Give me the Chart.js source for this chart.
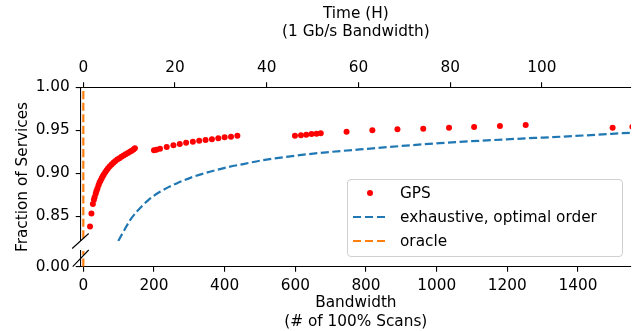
<!DOCTYPE html>
<html>
<head>
<meta charset="utf-8">
<script src="https://cdn.jsdelivr.net/npm/chart.js@4.4.1/dist/chart.umd.min.js"></script>
<style>
  html, body { margin: 0; padding: 0; background: #fff; }
  #wrap { position: relative; width: 638px; height: 331px; }
  #legend {
    position: absolute; left: 347px; top: 179px; width: 276px; height: 78px;
    box-sizing: border-box; border: 1px solid #d0d0d0; border-radius: 4px;
    background: rgba(255, 255, 255, 0.8);
    font: 15.3px 'DejaVu Sans', sans-serif; color: #000;
  }
  .row { position: absolute; left: 0; width: 100%; height: 24px; line-height: 24px; }
  .row .label { position: absolute; left: 52px; white-space: nowrap; }
  .row .dot { position: absolute; left: 19px; top: 9px; width: 6px; height: 6px; border-radius: 50%; background: #ff0000; }
  .row .dash { position: absolute; left: 5px; top: 11px; width: 32px; height: 2.2px; }
</style>
</head>
<body>
<div id="wrap">
  <canvas id="chart" width="638" height="331"></canvas>
  <div id="legend">
    <div class="row" style="top:1.3px"><span class="dot"></span><span class="label">GPS</span></div>
    <div class="row" style="top:25.3px"><span class="dash" style="background:repeating-linear-gradient(to right,#1f77b4 0 8px,transparent 8px 12px)"></span><span class="label">exhaustive, optimal order</span></div>
    <div class="row" style="top:49.3px"><span class="dash" style="background:repeating-linear-gradient(to right,#ff7f0e 0 8px,transparent 8px 12px)"></span><span class="label">oracle</span></div>
  </div>
</div>
<script>
// bandwidth in number of 100% scans, fraction of services found
const gpsBandwidth = [19, 23, 27, 30, 32, 35, 37, 40, 43, 46, 49, 52, 55, 58, 62, 66, 70, 75, 80, 85, 90, 96, 102, 108, 114, 120, 126, 132, 137, 142, 146,
  200, 207, 217, 236, 255, 273, 291, 310, 328, 346, 364, 382, 400, 418, 436,
  599, 616, 631, 646, 660, 672,
  745, 818, 889, 962, 1035, 1106, 1179, 1252, 1498, 1554]
const gpsFraction = [0.838, 0.853, 0.864, 0.869, 0.872, 0.876, 0.879, 0.882, 0.886, 0.889, 0.8915, 0.894, 0.8965, 0.8985, 0.901, 0.9035, 0.9058, 0.908, 0.910, 0.912, 0.914, 0.9158, 0.9175, 0.919, 0.9205, 0.922, 0.9235, 0.925, 0.9262, 0.9275, 0.929,
  0.9266, 0.9273, 0.9284, 0.9304, 0.9324, 0.9339, 0.9354, 0.9366, 0.9378, 0.9386, 0.9394, 0.9406, 0.9417, 0.9424, 0.9436,
  0.9436, 0.9441, 0.9448, 0.9456, 0.9459, 0.9464,
  0.9483, 0.9499, 0.951, 0.9517, 0.9529, 0.9537, 0.9549, 0.9561, 0.9529, 0.954]

const exhaustiveBandwidth = [99, 115, 132, 151, 184, 217, 264, 311, 358, 406, 453, 500, 632, 820, 1009, 1198, 1386, 1550]
const exhaustiveFraction = [0.821, 0.833, 0.845, 0.855, 0.8687, 0.8783, 0.8881, 0.8958, 0.9016, 0.9068, 0.9106, 0.9145, 0.9219, 0.9289, 0.935, 0.9394, 0.9432, 0.9471]

const oracleBandwidth = [0, 0]
const oracleFraction = [0, 1]

const bandwidthTicks = [0, 200, 400, 600, 800, 1000, 1200, 1400]
const timeTicks = [0, 20, 40, 60, 80, 100]
const upperFractionTicks = [0.85, 0.9, 0.95, 1.0]
const lowerFractionTicks = [0]

const bandwidthMin = -7.4
const bandwidthMax = 1550
const hoursPerScan = 1 / 12.98

const toPoints = (xs, ys) => xs.map((x, i) => ({ x, y: ys[i] }))

Chart.defaults.font.family = "'DejaVu Sans', sans-serif"
Chart.defaults.font.size = 15.3
Chart.defaults.color = '#000'

// each dataset only shows inside its own y segment
const clipToAxis = {
  id: 'clipToAxis',
  beforeDatasetDraw(chart, args) {
    const y = chart.scales[args.meta.yAxisID]
    const { left, right } = chart.chartArea
    chart.ctx.save()
    chart.ctx.beginPath()
    chart.ctx.rect(left, y.top, right - left, y.bottom - y.top)
    chart.ctx.clip()
  },
  afterDatasetDraw(chart) {
    chart.ctx.restore()
  },
}

const breakMarks = {
  id: 'breakMarks',
  afterDraw(chart) {
    const { ctx } = chart
    const top = chart.scales.yTop
    const bot = chart.scales.yBot
    const x = top.right
    ctx.save()
    ctx.strokeStyle = '#000'
    ctx.lineWidth = 1.1
    ctx.beginPath()
    ctx.moveTo(x - 8.5, top.bottom + 7.5)
    ctx.lineTo(x + 8, top.bottom - 7.5)
    ctx.moveTo(x - 8, bot.bottom)
    ctx.lineTo(x + 8, bot.top - 1)
    ctx.stroke()
    ctx.restore()
  },
}

const tickGrid = { display: true, drawOnChartArea: false, drawTicks: true, tickLength: 5, color: '#000', lineWidth: 1.1 }
const spine = { display: true, color: '#000', width: 1.1 }
const hidden = { ticks: { display: false }, grid: { display: false }, border: { display: false } }
const fixedTicks = (values) => (scale) => { scale.ticks = values.map((v) => ({ value: v })) }

new Chart(document.getElementById('chart'), {
  type: 'scatter',
  data: {
    datasets: [
      {
        label: 'GPS',
        data: toPoints(gpsBandwidth, gpsFraction),
        yAxisID: 'yTop',
        backgroundColor: '#ff0000',
        borderWidth: 0,
        pointRadius: 3,
      },
      {
        label: 'exhaustive, optimal order',
        data: toPoints(exhaustiveBandwidth, exhaustiveFraction),
        yAxisID: 'yTop',
        showLine: true,
        borderColor: '#1f77b4',
        borderWidth: 2.2,
        borderDash: [8.1, 3.5],
        cubicInterpolationMode: 'monotone',
        pointRadius: 0,
      },
      {
        label: 'oracle',
        data: toPoints(oracleBandwidth, oracleFraction),
        yAxisID: 'yTop',
        showLine: true,
        borderColor: '#ff7f0e',
        borderWidth: 2.2,
        borderDash: [8.1, 3.5],
        pointRadius: 0,
      },
      {
        label: 'oracle',
        data: toPoints(oracleBandwidth, oracleFraction),
        yAxisID: 'yBot',
        showLine: true,
        borderColor: '#ff7f0e',
        borderWidth: 2.2,
        borderDash: [8.1, 3.5],
        pointRadius: 0,
      },
    ],
  },
  options: {
    responsive: false,
    animation: false,
    devicePixelRatio: 1,
    layout: { padding: { left: 0, right: 7, top: 0, bottom: 0 } },
    plugins: { legend: { display: false }, tooltip: { enabled: false } },
    scales: {
      x: {
        type: 'linear',
        position: 'bottom',
        min: bandwidthMin,
        max: bandwidthMax,
        afterBuildTicks: fixedTicks(bandwidthTicks),
        ticks: { padding: 5, callback: (v) => String(v) },
        grid: tickGrid,
        border: spine,
        title: { display: true, text: ['Bandwidth', '(# of 100% Scans)'], padding: { top: 0, bottom: 0 } },
        afterFit: (s) => { s.height = 64.3 },
      },
      xTop: {
        type: 'linear',
        position: 'top',
        min: bandwidthMin * hoursPerScan,
        max: bandwidthMax * hoursPerScan,
        afterBuildTicks: fixedTicks(timeTicks),
        ticks: { padding: 5.5, callback: (v) => String(v) },
        grid: tickGrid,
        border: spine,
        title: { display: true, text: ['Time (H)', '(1 Gb/s Bandwidth)'], padding: { top: 4.5, bottom: 0 } },
        afterFit: (s) => { s.height = 87.3 },
      },
      yLabel: {
        type: 'linear',
        position: 'left',
        weight: 1,
        ...hidden,
        title: { display: true, text: 'Fraction of Services', padding: { top: 13.5, bottom: 0 } },
        afterFit: (s) => { s.width = 30 },
      },
      yTop: {
        type: 'linear',
        position: 'left',
        stack: 'fraction',
        stackWeight: 153.7,
        weight: 0.3,
        min: 0.821,
        max: 1.0,
        afterBuildTicks: fixedTicks(upperFractionTicks),
        ticks: { padding: 6, callback: (v) => v.toFixed(2) },
        grid: tickGrid,
        border: spine,
        afterFit: (s) => { s.width = 50.7 },
      },
      yGap: {
        type: 'linear',
        position: 'left',
        stack: 'fraction',
        stackWeight: 10,
        weight: 0.2,
        ...hidden,
        afterFit: (s) => { s.width = 50.7 },
      },
      yBot: {
        type: 'linear',
        position: 'left',
        stack: 'fraction',
        stackWeight: 15.7,
        weight: 0.1,
        min: 0,
        max: 0.02,
        afterBuildTicks: fixedTicks(lowerFractionTicks),
        ticks: { padding: 6, callback: (v) => v.toFixed(2) },
        grid: tickGrid,
        border: spine,
        afterFit: (s) => { s.width = 50.7 },
      },
    },
  },
  plugins: [clipToAxis, breakMarks],
})
</script>
</body>
</html>
